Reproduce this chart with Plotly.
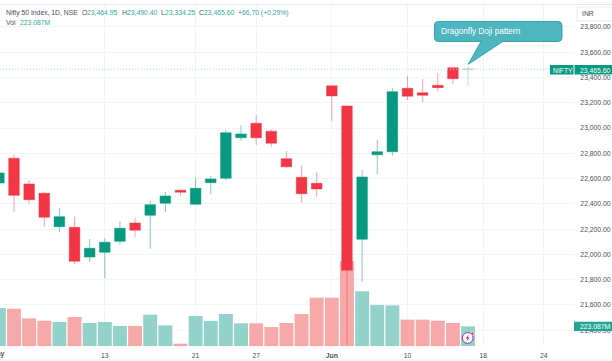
import plotly.graph_objects as go

# ---------- data ----------
opens  = [22565,22761,22558,22484,22220,22215,21980,22017,22104,22249,22310,22405,22508,22397,22568,22603,
          22924,23038,22975,22758,22610,22563,23335,23175,22120,22789,22813,23315,23280,23339,23478]
highs  = [22660,22793,22589,22494,22365,22299,22122,22128,22262,22291,22423,22494,22514,22605,22621,22985,
          23022,23104,22993,22819,22702,22650,23341,23175,22668,22906,23317,23410,23388,23438,23478]
lows   = [22550,22338,22399,22220,22175,21922,21940,21811,22075,22140,22045,22336,22465,22397,22476,22589,
          22900,22866,22853,22682,22410,22457,23058,21281,21784,22637,22781,23222,23206,23291,23349]
closes = [22645,22468,22433,22294,22299,21946,22049,22096,22207,22191,22394,22463,22492,22523,22597,22963,
          22953,22924,22880,22694,22481,22518,23254,21875,22613,22813,23288,23252,23259,23320,23391]
last_ohlc = [23464.95, 23490.40, 23334.25, 23465.60]
volumes = [431,423,314,287,272,329,261,272,227,227,355,234,26,340,284,363,257,257,215,261,363,548,548,964,
           620,465,461,299,299,287,261,223.087]
vol_up  = [1,0,0,0,1,0,1,1,1,0,1,1,0,1,1,1,1,0,0,0,0,0,0,0,1,1,1,0,0,0,0,1]
tick_pos = [7,13,17,22,27,32,36]
tick_txt = ["13","21","27","<b>Jun</b>","10","18","24"]
price_ticks = [21400,21600,21800,22000,22200,22400,22600,22800,23000,23200,23400,23600,23800]
header = [("Nifty 50 Index, 1D, NSE",5,"#4a4e58"),("O",81,"#4a4e58"),("23,464.95",86,"#35a898"),
          ("H",121,"#4a4e58"),("23,490.40",126,"#35a898"),("L",160,"#4a4e58"),("23,334.25",164,"#35a898"),
          ("C",198,"#4a4e58"),("23,465.60",203,"#35a898"),("+66.70 (+0.29%)",237,"#35a898"),
          ("Vol",5,"#4a4e58"),("223.087M",19,"#35a898")]

W, H = 612, 361
L, R, T, B = 0, 574, 5, 346
TEAL, RED = "#089981", "#F23645"
def fx(x): return (x - L) / (R - L)
def fy(y): return (B - y) / (B - T)

xs = list(range(len(opens)))
last_x = len(opens)

fig = go.Figure()
fig.add_trace(go.Bar(x=xs + [last_x], y=volumes, yaxis="y", width=0.92,
                     marker=dict(color=["#93d2ca" if u else "#f7a9a9" for u in vol_up], line=dict(width=0)),
                     hoverinfo="skip"))
fig.add_trace(go.Scatter(x=[0.075, 38], y=[last_ohlc[3]] * 2, yaxis="y2", mode="lines",
                         line=dict(color="#a3dcd3", width=1, dash="1px,2px"), hoverinfo="skip"))
fig.add_trace(go.Candlestick(x=xs, open=opens, high=highs, low=lows, close=closes, yaxis="y2",
    increasing=dict(fillcolor=TEAL, line=dict(color="rgba(8,153,129,0.5)", width=1)),
    decreasing=dict(fillcolor=RED, line=dict(color="rgba(242,54,69,0.45)", width=1)), hoverinfo="skip"))
fig.add_trace(go.Candlestick(x=[last_x], open=[last_ohlc[0]], high=[last_ohlc[1]], low=[last_ohlc[2]],
    close=[last_ohlc[3]], yaxis="y2",
    increasing=dict(fillcolor="#b5e0d9", line=dict(color="#b5e0d9", width=1)),
    decreasing=dict(fillcolor="#b5e0d9", line=dict(color="#b5e0d9", width=1)), hoverinfo="skip"))

grid = "#f3f4f6"
shapes = [
    dict(type="line", xref="paper", yref="paper", x0=0, x1=fx(W), y0=fy(4.5), y1=fy(4.5), line=dict(color="#e6e8ee", width=1)),
    dict(type="line", xref="paper", yref="paper", x0=0, x1=fx(W), y0=fy(360), y1=fy(360), line=dict(color="#eceef2", width=1)),
    # price labels
    dict(type="rect", xref="paper", yref="paper", x0=fx(550), x1=fx(573.5), y0=fy(74.5), y1=fy(65), fillcolor=TEAL, line=dict(width=0)),
    dict(type="rect", xref="paper", yref="paper", x0=fx(574.5), x1=fx(612), y0=fy(74.5), y1=fy(65), fillcolor=TEAL, line=dict(width=0)),
    dict(type="rect", xref="paper", yref="paper", x0=fx(574), x1=fx(612), y0=fy(331), y1=fy(321.7), fillcolor="#22a596", line=dict(width=0)),
    dict(type="rect", xref="paper", yref="paper", x0=fx(577), x1=fx(613), y0=fy(21), y1=fy(7), fillcolor="white", line=dict(color="#e6e8ee", width=1)),
]
# callout
pts = ("M {} {} L {} {} Q {} {} {} {} L {} {} Q {} {} {} {} L {} {} L {} {} L {} {} L {} {} Q {} {} {} {} L {} {} Q {} {} {} {} Z")
seq = [(438.5,21.5),(558,21.5),(562,21.5),(562,25.5),(562,37.5),(562,41.5),(558,41.5),
       (502.7,41.5),(468.3,64.3),(481,41.5),(438.5,41.5),(434.5,41.5),(434.5,37.5),(434.5,25.5),(434.5,21.5),(438.5,21.5)]
flat = []
for px_, py_ in seq:
    flat += [round(fx(px_), 5), round(fy(py_), 5)]
shapes.append(dict(type="path", xref="paper", yref="paper", path=pts.format(*flat),
                   fillcolor="#4fb6c0", line=dict(color="#2ea3b3", width=1)))
# icon
def circ(cx, cy, r, fill, line, w):
    return dict(type="circle", xref="paper", yref="paper", x0=fx(cx-r), x1=fx(cx+r), y0=fy(cy+r), y1=fy(cy-r),
                fillcolor=fill, line=dict(color=line, width=w))
shapes.append(circ(467.7, 338, 5.4, "white", "#9c27b0", 1))
bolt = [(469,334.5),(465.8,338.6),(467.6,338.6),(466.4,341.5),(469.6,337.4),(467.8,337.4)]
shapes.append(dict(type="path", xref="paper", yref="paper",
                   path="M " + " L ".join(f"{fx(a):.5f} {fy(b):.5f}" for a, b in bolt) + " Z",
                   fillcolor="#9c27b0", line=dict(width=0)))
shapes.append(circ(472.3, 333.6, 1.7, "#f23645", "white", 0.6))

F = "Liberation Sans"
S = 6.8
def ann(text, x, y, color, size=S, anchor="left"):
    return dict(text=text, xref="paper", yref="paper", x=fx(x), y=fy(y), xanchor=anchor, yanchor="middle",
                showarrow=False, font=dict(family=F, size=size, color=color), borderpad=0)
anns = [ann(t, x, 13 if i < 10 else 23, c) for i, (t, x, c) in enumerate(header)]
anns += [
    ann("<b>May</b>", 4.5, 353.5, "#4a4e58", S, "right"),
    ann("INR", 581, 14, "#4a4e58"),
    ann("Dragonfly Doji pattern", 440, 31.3, "white", 8.2),
    ann("NIFTY", 552, 70, "white"),
    ann("23,465.60", 579, 70, "white"),
    ann("223.087M", 579, 326.5, "white"),
]

fig.update_layout(
    width=W, height=H, margin=dict(l=L, r=W - R, t=T, b=H - B, pad=0, autoexpand=False),
    paper_bgcolor="white", plot_bgcolor="white", showlegend=False, boxgap=0.0, barmode="overlay",
    shapes=shapes, annotations=anns, font=dict(family=F, size=S, color="#4a4e58"),
    xaxis=dict(range=[0.075, 38], rangeslider=dict(visible=False), tickmode="array", tickvals=tick_pos,
               ticktext=tick_txt, showgrid=True, gridcolor=grid, gridwidth=1, zeroline=False, showline=False,
               ticks="outside", ticklen=3, tickcolor="rgba(0,0,0,0)",
               tickfont=dict(family=F, size=S, color="#4a4e58")),
    yaxis=dict(range=[0, 3867], visible=False, showgrid=False, zeroline=False),
    yaxis2=dict(range=[21275.5, 23974], overlaying="y", side="right", anchor="x", tickmode="array",
                tickvals=price_ticks, tickformat=",.2f", showgrid=True, gridcolor=grid, gridwidth=1,
                zeroline=False, showline=False, ticks="outside", ticklen=4, tickcolor="rgba(0,0,0,0)",
                tickfont=dict(family=F, size=S, color="#4a4e58")),
)

fig.write_html("out.html", config=dict(displayModeBar=False),
               post_script="document.body.style.margin='0';document.body.style.overflow='hidden';")
